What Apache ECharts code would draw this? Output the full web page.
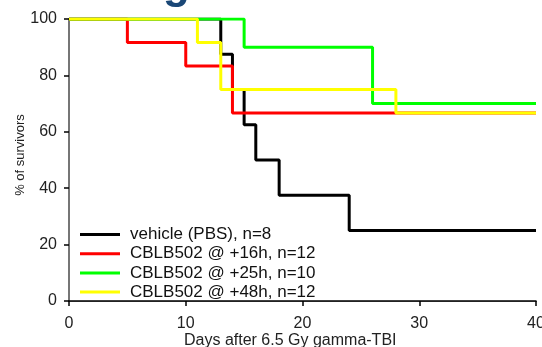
<!DOCTYPE html>
<html>
<head>
<meta charset="utf-8">
<script src="https://cdn.jsdelivr.net/npm/echarts@6/dist/echarts.min.js"></script>
<style>
  html, body { margin: 0; padding: 0; background: #fff; }
  #chart { width: 542px; height: 347px; }
</style>
</head>
<body>
<div id="chart"></div>
<script>
// survival data (days, % alive)
const seriesNames = [
  "vehicle (PBS), n=8",
  "CBLB502 @ +16h, n=12",
  "CBLB502 @ +25h, n=10",
  "CBLB502 @ +48h, n=12",
];
const vehicleDays = [0, 13, 14, 15, 16, 18, 24, 40];
const vehicleSurv = [100, 87.5, 75, 62.5, 50, 37.5, 25, 25];
const h16Days = [0, 5, 10, 14, 40];
const h16Surv = [100, 91.7, 83.3, 66.7, 66.7];
const h25Days = [0, 15, 26, 40];
const h25Surv = [100, 90, 70, 70];
const h48Days = [0, 11, 13, 28, 40];
const h48Surv = [100, 91.7, 75, 66.7, 66.7];
const xTicks = [0, 10, 20, 30, 40];
const yTicks = [0, 20, 40, 60, 80, 100];

const colors = ["#000000", "#ff0000", "#00ff00", "#ffff00"];
const allDays = [vehicleDays, h16Days, h25Days, h48Days];
const allSurv = [vehicleSurv, h16Surv, h25Surv, h48Surv];

const myChart = echarts.init(document.getElementById("chart"));
const font = "Liberation Sans, Arial, sans-serif";

const option = {
  animation: false,
  grid: { left: 69, right: 6, top: 19, bottom: 46, outerBoundsMode: "none", containLabel: false },
  xAxis: [
    {
      type: "value",
      min: xTicks[0],
      max: xTicks[xTicks.length - 1],
      interval: 10,
      axisLine: { show: true, lineStyle: { color: "#000", width: 1.5 } },
      axisTick: { show: true, inside: false, length: 5, lineStyle: { color: "#000", width: 1.5 } },
      axisLabel: { margin: 15, color: "#222", fontSize: 16, fontFamily: font },
      splitLine: { show: false },
    },
    {
      type: "value",
      position: "top",
      min: 0,
      max: 40,
      axisLine: { show: true, lineStyle: { color: "#222", width: 1 } },
      axisTick: { show: false },
      axisLabel: { show: false },
      splitLine: { show: false },
    },
  ],
  yAxis: [
    {
      type: "value",
      min: yTicks[0],
      max: yTicks[yTicks.length - 1],
      interval: 20,
      axisLine: { show: true, lineStyle: { color: "#000", width: 1.5 } },
      axisTick: { show: true, length: 5, lineStyle: { color: "#000", width: 1.5 } },
      axisLabel: { margin: 12, color: "#222", fontSize: 16, fontFamily: font },
      splitLine: { show: false },
    },
    {
      type: "value",
      position: "right",
      min: 0,
      max: 100,
      axisLine: { show: true, lineStyle: { color: "#888", width: 1.5 } },
      axisTick: { show: false },
      axisLabel: { show: false },
      splitLine: { show: false },
    },
  ],
  legend: {
    orient: "vertical",
    left: 75,
    top: 221,
    itemWidth: 40,
    itemHeight: 14,
    itemGap: 2.2,
    icon: "path://M0,0 L40,0 L40,3 L0,3 Z",
    textStyle: { color: "#111", fontSize: 17, fontFamily: font, padding: [0, 0, 0, 5] },
    data: seriesNames,
  },
  graphic: [
    {
      type: "text",
      left: 184,
      top: 333,
      style: { text: "Days after 6.5 Gy gamma-TBI", fill: "#222", font: "16px " + font },
    },
    {
      type: "text",
      x: 20,
      y: 155,
      rotation: Math.PI / 2,
      style: {
        text: "% of survivors",
        fill: "#222",
        font: "13px " + font,
        align: "center",
        verticalAlign: "middle",
      },
    },
    {
      type: "text",
      x: 163,
      y: -36,
      style: {
        text: "g",
        fill: "#1a4776",
        font: "bold 44px " + font,
      },
    },
  ],
  series: seriesNames.map((name, i) => ({
    name: name,
    type: "line",
    step: "end",
    symbol: "none",
    color: colors[i],
    lineStyle: { color: colors[i], width: 3 },
    itemStyle: { color: colors[i] },
    z: 2 + i,
    data: allDays[i].map((d, j) => [d, allSurv[i][j]]),
  })),
};
myChart.setOption(option);
</script>
</body>
</html>
